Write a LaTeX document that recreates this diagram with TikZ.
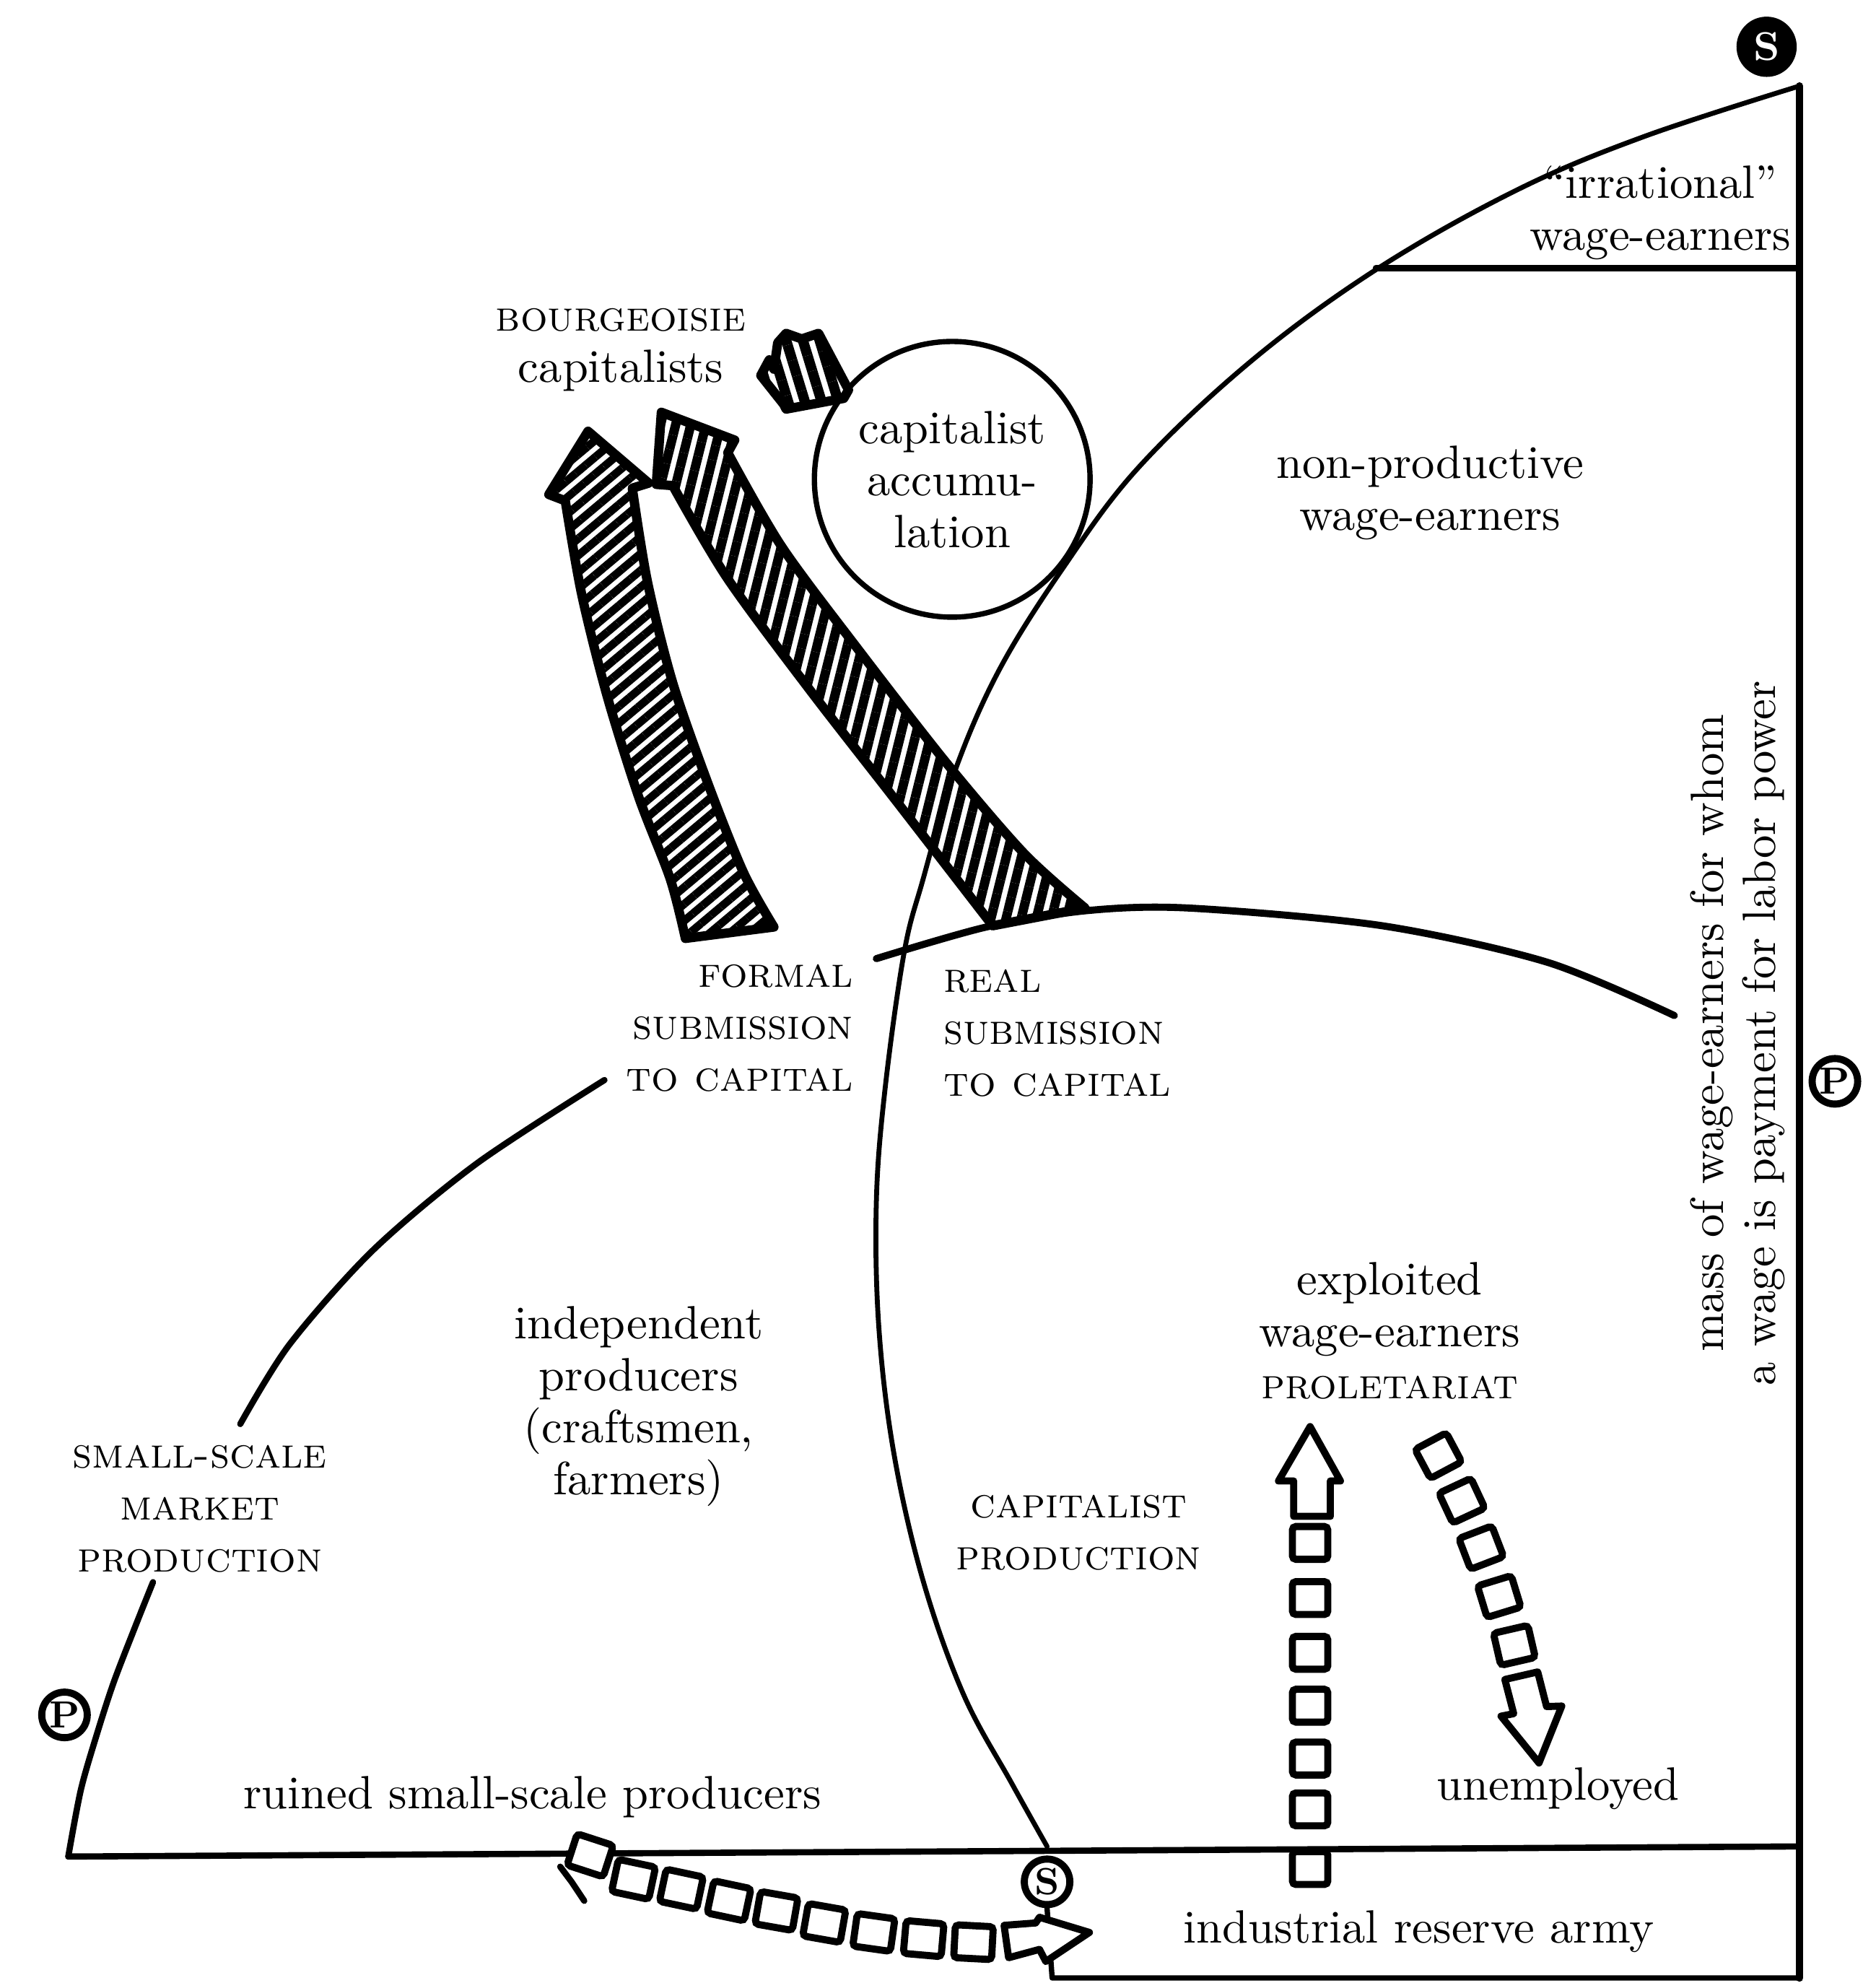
\documentclass[tikz,border=0pt]{standalone}
\usepackage{tikz}
\usetikzlibrary{positioning,calc,patterns.meta}

\begin{document}
\begin{tikzpicture}[
  font=\fontsize{10.5}{11.7}\selectfont,
  lbl/.style={align=center, inner sep=1pt},
  sc/.style={align=center, inner sep=1pt, font=\fontsize{9.6}{11.7}\selectfont\scshape},
  edge/.style={line width=1.4pt, line cap=round, line join=round},
  badge/.style={circle, draw, line width=1.6pt, inner sep=0pt, minimum size=3.6mm, font=\fontsize{8.5}{8.5}\selectfont\bfseries},
  hatch/.style n args={3}{line width=2.1pt, line join=round, pattern={Lines[angle=#1, distance=#2, line width=#3]}},
  sq/.style={draw, line width=1.6pt, rounded corners=0.8pt, minimum width=2.8mm, minimum height=2.6mm, inner sep=0pt, fill=white},
  hollow/.style={draw, line width=1.6pt, line join=round, fill=white}]
\fill[white] (0,0) rectangle (14.83,-15.68);
\useasboundingbox (0,0) rectangle (14.83,-15.68);

\node[badge, fill=black, text=white, minimum size=4.2mm, font=\fontsize{9}{9}\selectfont\bfseries] (stop) at (13.97,-0.37) {S};
\node[badge] (sbot) at (8.28,-14.88) {S};
\node[badge] (pleft) at (0.51,-13.56) {P};
\node[badge] (pright) at (14.51,-8.55) {P};

\draw[edge, line width=1.7pt] (14.23,-0.68) -- (14.23,-15.64);
\draw[edge] (0.54,-14.68) -- (14.23,-14.60);
\draw[edge] (10.88,-2.12) -- (14.23,-2.12);
\draw[edge, line width=1.2pt] (sbot.south) -- (8.32,-15.64) -- (14.23,-15.64);
\draw[edge, line width=1.1pt] plot[smooth, tension=0.6] coordinates {(14.23,-0.68) (13.0,-1.08) (12.0,-1.50) (10.9,-2.12) (9.9,-2.85) (9.0,-3.70) (8.4,-4.50) (7.9,-5.30) (7.55,-6.10) (7.30,-6.95) (7.15,-7.53) (7.0,-8.60) (6.93,-9.50) (6.95,-10.50) (7.07,-11.50) (7.30,-12.50) (7.62,-13.40) (8.00,-14.10) (8.28,-14.60)};
\draw[edge, line width=1.6pt] plot[smooth] coordinates {(6.93,-7.58) (7.80,-7.33) (8.60,-7.20) (9.40,-7.18) (10.93,-7.32) (12.24,-7.61) (13.24,-8.03)};
\draw[edge] plot[smooth] coordinates {(4.78,-8.54) (3.77,-9.20) (2.95,-9.885) (2.29,-10.63) (1.90,-11.26)};
\draw[edge] plot[smooth] coordinates {(1.21,-12.51) (1.07,-12.86) (0.90,-13.30) (0.77,-13.70) (0.64,-14.15) (0.54,-14.68)};

\node[circle, draw, line width=1.2pt, minimum size=2.18cm, lbl] (accum) at (7.53,-3.79) {capitalist\\accumu-\\lation};
\node[sc] (bourg) at (4.91,-2.53) {bourgeoisie};
\node[lbl] (capst) at (4.91,-2.93) {capitalists};
\node[lbl] (irrat) at (13.13,-1.685) {``irrational''\\wage-earners};
\node[lbl] (nonprod) at (11.31,-3.895) {non-productive\\wage-earners};
\node[sc, align=right, anchor=east] (formal) at (6.79,-8.13) {formal\\submission\\to capital};
\node[sc, align=left, anchor=west] (real) at (7.42,-8.17) {real\\submission\\to capital};
\node[lbl, rotate=90] (mass) at (13.74,-8.17) {mass of wage-earners for whom\\a wage is payment for labor power};
\node[lbl] (exploit) at (10.99,-10.52) {exploited\\wage-earners\\{\fontsize{9.6}{11.7}\selectfont\scshape proletariat}};
\node[lbl] (indep) at (5.05,-11.12) {independent\\producers\\(craftsmen,\\farmers)};
\node[sc] (smallsc) at (1.58,-11.93) {small-scale\\market\\production};
\node[sc] (capprod) at (8.53,-12.12) {capitalist\\production};
\node[lbl] (ruined) at (4.21,-14.21) {ruined small-scale producers};
\node[lbl] (unemp) at (12.32,-14.14) {unemployed};
\node[lbl] (army) at (11.22,-15.27) {industrial reserve army};

\draw[hatch={107}{3.6pt}{2.3pt}, shift={(0.08,-0.02)}] (6.07,-2.69) -- (6.136,-2.616) -- (6.26,-2.66) -- (6.393,-2.616) -- (6.63,-3.063) -- (6.592,-3.13) -- (6.136,-3.215) -- (6.117,-3.177) -- (5.936,-2.949) -- (6.003,-2.825) -- (6.04,-2.90) -- cycle;
\draw[hatch={40}{2.9pt}{1.8pt}] (4.47,-3.96) -- (4.34,-3.91) -- (4.65,-3.41) -- (5.13,-3.82) -- (5.00,-3.86) -- plot[smooth] coordinates {(5.00,-3.86) (5.12,-4.60) (5.32,-5.40) (5.60,-6.20) (5.88,-6.90) (6.12,-7.33)} -- (5.42,-7.42) -- plot[smooth] coordinates {(5.42,-7.42) (5.30,-6.95) (5.05,-6.30) (4.80,-5.50) (4.60,-4.70) (4.47,-3.96)} -- cycle;
\draw[hatch={76}{3.3pt}{2.1pt}] (5.23,-3.26) -- (5.81,-3.48) -- (5.755,-3.58) -- plot[smooth] coordinates {(5.755,-3.58) (6.18,-4.32) (6.79,-5.14) (7.49,-6.04) (8.10,-6.75) (8.58,-7.18)} -- (7.85,-7.32) -- plot[smooth] coordinates {(7.85,-7.32) (7.10,-6.35) (6.40,-5.45) (5.75,-4.57) (5.32,-3.84)} -- (5.19,-3.83) -- cycle;

\foreach \y in {12.20,12.636,13.069,13.487,13.905,14.307,14.771}
  \node[sq] at (10.36,-\y) {};
\draw[hollow] (10.36,-11.28) -- (10.60,-11.71) -- (10.52,-11.71) -- (10.52,-11.99) -- (10.23,-11.99) -- (10.23,-11.71) -- (10.11,-11.71) -- cycle;

\foreach \x/\y/\r in {11.374/11.51/28, 11.56/11.866/25, 11.713/12.237/21, 11.855/12.624/17, 11.975/13.01/13}
  \node[sq, rotate=\r] at (\x,-\y) {};
\draw[hollow] (12.17,-13.94) -- (12.35,-13.49) -- (12.23,-13.494) -- (12.16,-13.22) -- (11.90,-13.28) -- (11.97,-13.55) -- (11.87,-13.57) -- cycle;

\foreach \x/\y/\r in {4.667/14.67/-18, 5.01/14.86/-12, 5.388/14.938/-12, 5.765/15.03/-12, 6.14/15.11/-10, 6.518/15.205/-10, 6.91/15.28/-8, 7.304/15.329/-5, 7.698/15.357/-3}
  \node[sq, rotate=\r, minimum width=3mm] at (\x,-\y) {};
\draw[hollow] (7.94,-15.224) -- (8.19,-15.205) -- (8.22,-15.16) -- (8.615,-15.28) -- (8.27,-15.51) -- (8.22,-15.414) -- (7.976,-15.48) -- cycle;
\draw[edge] (4.43,-14.76) -- (4.52,-14.88) -- (4.62,-15.03);
\end{tikzpicture}
\end{document}
